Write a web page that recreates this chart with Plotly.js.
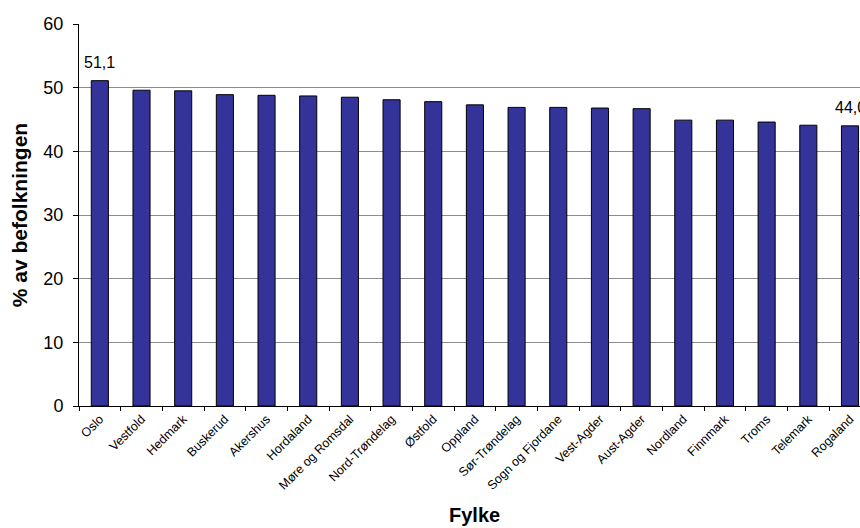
<!DOCTYPE html>
<html>
<head>
<meta charset="utf-8">
<script src="https://cdn.plot.ly/plotly-3.0.1.min.js"></script>
<style>html,body{margin:0;padding:0;background:#fff;}#chart{width:860px;height:528px;}</style>
</head>
<body>
<div id="chart"></div>
<script>
var fylker = ["Oslo","Vestfold","Hedmark","Buskerud","Akershus","Hordaland","Møre og Romsdal","Nord-Trøndelag","Østfold","Oppland","Sør-Trøndelag","Sogn og Fjordane","Vest-Agder","Aust-Agder","Nordland","Finnmark","Troms","Telemark","Rogaland"];
var andel = [51.1,49.6,49.5,48.9,48.8,48.7,48.5,48.1,47.8,47.3,46.9,46.9,46.8,46.7,44.9,44.9,44.6,44.1,44.0];
var labelledIdx = [0, 18];
var yTicks = [0,10,20,30,40,50,60];

var FONT = "Liberation Sans, Arial, sans-serif";

var annotations = labelledIdx.map(function(i){
  return {
    x: fylker[i], y: andel[i], xref: 'x', yref: 'y',
    text: andel[i].toFixed(1).replace('.', ','),
    showarrow: false, yanchor: 'bottom', yshift: 8,
    font: {family: FONT, size: 16, color: '#000'}
  };
});
annotations.push({
  text: '<b>Fylke</b>', xref: 'paper', yref: 'paper',
  x: 0.507, y: 0, yanchor: 'middle', yshift: -109,
  showarrow: false, font: {family: FONT, size: 20, color: '#000'}
});

var trace = {
  type: 'bar',
  x: fylker,
  y: andel,
  width: 0.41,
  marker: {color: '#333399', line: {color: '#000', width: 1}},
  hoverinfo: 'x+y'
};

var layout = {
  width: 860, height: 528,
  margin: {l: 79, r: 0, t: 24, b: 122, pad: 0},
  paper_bgcolor: '#fff', plot_bgcolor: '#fff',
  showlegend: false,
  font: {family: FONT, color: '#000'},
  xaxis: {
    type: 'category',
    range: [-0.5, 18.24],
    tickangle: -45,
    tickfont: {family: FONT, size: 12.5, color: '#000'},
    ticks: 'outside', tickson: 'boundaries', ticklen: 4, tickcolor: '#000',
    showline: true, linecolor: '#000', linewidth: 1,
    showgrid: false, zeroline: false, fixedrange: true
  },
  yaxis: {
    range: [0, 60],
    tickvals: yTicks,
    ticktext: yTicks.map(String),
    tickfont: {family: FONT, size: 18, color: '#000'},
    ticks: 'outside', ticklen: 5, tickcolor: '#000',
    ticklabelstandoff: 6,
    showline: true, linecolor: '#000', linewidth: 1,
    showgrid: true, gridcolor: '#8c8c8c', gridwidth: 1,
    zeroline: false, fixedrange: true,
    title: {text: '<b>% av befolkningen</b>', font: {family: FONT, size: 21, color: '#000'}, standoff: 10}
  },
  annotations: annotations
};

Plotly.newPlot('chart', [trace], layout, {displayModeBar: false, staticPlot: true});
</script>
</body>
</html>
